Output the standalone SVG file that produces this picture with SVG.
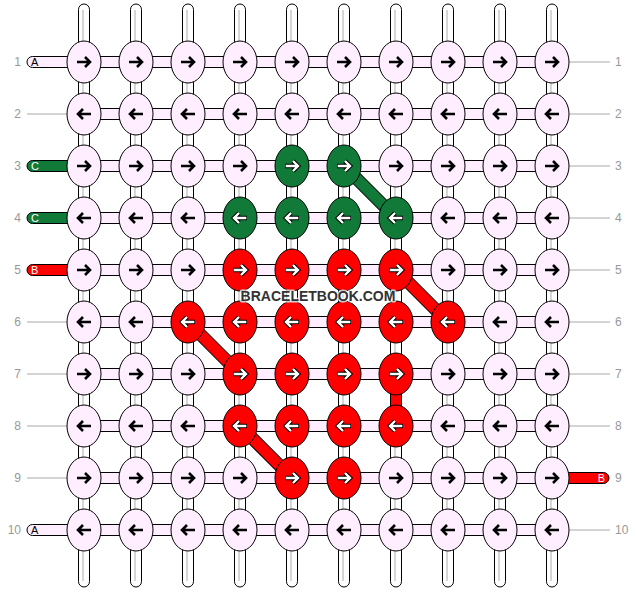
<svg xmlns="http://www.w3.org/2000/svg" xmlns:xlink="http://www.w3.org/1999/xlink" width="636" height="592" viewBox="0 0 636 592">
<style>
.vs{fill:#ffffff;stroke:#000;stroke-width:1}
.vl{stroke:#bbbbbb;stroke-width:1.2}
.hs{fill:#ffeeff;stroke:#000;stroke-width:1}
.knot ellipse{stroke:#000;stroke-width:1}
.p ellipse{fill:#ffeeff}
.g ellipse{fill:#127a38}
.r ellipse{fill:#ff0000}
.num{font-family:"Liberation Sans",Arial,sans-serif;font-size:12px;fill:#999999}
.gl{stroke:#aaaaaa;stroke-width:1}
.lab{font-family:"Liberation Sans",Arial,sans-serif;font-size:11px}
.wm{font-family:"Liberation Sans",Arial,sans-serif;font-size:14px;font-weight:bold;fill:#333333;stroke:#ffffff;stroke-opacity:0.75;stroke-width:3;paint-order:stroke;stroke-linejoin:round}
</style>
<defs>
<g id="rb"><path d="M-7,0H6M1,-5L6,0L1,5" fill="none" stroke="#000" stroke-width="2.6"/></g>
<g id="lb"><path d="M7,0H-6M-1,-5L-6,0L-1,5" fill="none" stroke="#000" stroke-width="2.6"/></g>
<g id="rw"><path d="M-7,0H6M1,-5L6,0L1,5" fill="none" stroke="#000" stroke-width="4.4"/><path d="M-6.3,0H5.6M1,-5L6,0L1,5" fill="none" stroke="#fff" stroke-width="2.4"/></g>
<g id="lw"><path d="M7,0H-6M-1,-5L-6,0L-1,5" fill="none" stroke="#000" stroke-width="4.4"/><path d="M6.3,0H-5.6M-1,-5L-6,0L-1,5" fill="none" stroke="#fff" stroke-width="2.4"/></g>
<g id="vstrand"><rect x="-5.5" y="4" width="11" height="583" rx="5.5" class="vs"/><line x1="-1" y1="10" x2="-1" y2="581" class="vl"/></g>
</defs>
<g id="labels">
<text class="num" x="21" y="66" text-anchor="end">1</text>
<text class="num" x="21" y="118" text-anchor="end">2</text>
<text class="num" x="21" y="170" text-anchor="end">3</text>
<text class="num" x="21" y="222" text-anchor="end">4</text>
<text class="num" x="21" y="274" text-anchor="end">5</text>
<text class="num" x="21" y="326" text-anchor="end">6</text>
<text class="num" x="21" y="378" text-anchor="end">7</text>
<text class="num" x="21" y="430" text-anchor="end">8</text>
<text class="num" x="21" y="482" text-anchor="end">9</text>
<text class="num" x="21" y="534" text-anchor="end">10</text>
<text class="num" x="615" y="66">1</text>
<text class="num" x="615" y="118">2</text>
<text class="num" x="615" y="170">3</text>
<text class="num" x="615" y="222">4</text>
<text class="num" x="615" y="274">5</text>
<text class="num" x="615" y="326">6</text>
<text class="num" x="615" y="378">7</text>
<text class="num" x="615" y="430">8</text>
<text class="num" x="615" y="482">9</text>
<text class="num" x="615" y="534">10</text>
<line class="gl" x1="27" y1="114" x2="67" y2="114"/>
<line class="gl" x1="27" y1="322" x2="67" y2="322"/>
<line class="gl" x1="27" y1="374" x2="67" y2="374"/>
<line class="gl" x1="27" y1="426" x2="67" y2="426"/>
<line class="gl" x1="27" y1="478" x2="67" y2="478"/>
<line class="gl" x1="569" y1="62" x2="610" y2="62"/>
<line class="gl" x1="569" y1="114" x2="610" y2="114"/>
<line class="gl" x1="569" y1="166" x2="610" y2="166"/>
<line class="gl" x1="569" y1="218" x2="610" y2="218"/>
<line class="gl" x1="569" y1="270" x2="610" y2="270"/>
<line class="gl" x1="569" y1="322" x2="610" y2="322"/>
<line class="gl" x1="569" y1="374" x2="610" y2="374"/>
<line class="gl" x1="569" y1="426" x2="610" y2="426"/>
<line class="gl" x1="569" y1="530" x2="610" y2="530"/>
</g>
<g id="connectors">
<use href="#vstrand" x="84" y="0"/>
<use href="#vstrand" x="136" y="0"/>
<use href="#vstrand" x="188" y="0"/>
<use href="#vstrand" x="240" y="0"/>
<use href="#vstrand" x="292" y="0"/>
<use href="#vstrand" x="344" y="0"/>
<use href="#vstrand" x="396" y="0"/>
<use href="#vstrand" x="448" y="0"/>
<use href="#vstrand" x="500" y="0"/>
<use href="#vstrand" x="552" y="0"/>
<rect class="hs" x="70" y="56.5" width="496" height="11"/>
<rect class="hs" x="70" y="108.5" width="496" height="11"/>
<rect class="hs" x="70" y="160.5" width="496" height="11"/>
<rect class="hs" x="70" y="212.5" width="496" height="11"/>
<rect class="hs" x="70" y="264.5" width="496" height="11"/>
<rect class="hs" x="70" y="316.5" width="496" height="11"/>
<rect class="hs" x="70" y="368.5" width="496" height="11"/>
<rect class="hs" x="70" y="420.5" width="496" height="11"/>
<rect class="hs" x="70" y="472.5" width="496" height="11"/>
<rect class="hs" x="70" y="524.5" width="496" height="11"/>
<rect x="390.5" y="390" width="11" height="22" fill="#ff0000" stroke="#000" stroke-width="1"/>
<line x1="344" y1="166" x2="396" y2="218" stroke="#000" stroke-width="13"/>
<line x1="344" y1="166" x2="396" y2="218" stroke="#127a38" stroke-width="11"/>
<line x1="396" y1="270" x2="448" y2="322" stroke="#000" stroke-width="13"/>
<line x1="396" y1="270" x2="448" y2="322" stroke="#ff0000" stroke-width="11"/>
<line x1="188" y1="322" x2="240" y2="374" stroke="#000" stroke-width="13"/>
<line x1="188" y1="322" x2="240" y2="374" stroke="#ff0000" stroke-width="11"/>
<line x1="240" y1="426" x2="292" y2="478" stroke="#000" stroke-width="13"/>
<line x1="240" y1="426" x2="292" y2="478" stroke="#ff0000" stroke-width="11"/>
</g>
<g id="ends">
<rect x="27" y="56.5" width="46" height="11" rx="5.5" fill="#ffeeff" stroke="#000"/>
<text class="lab" x="31" y="66" fill="#000">A</text>
<rect x="27" y="160.5" width="46" height="11" rx="5.5" fill="#127a38" stroke="#000"/>
<text class="lab" x="31" y="170" fill="#fff">C</text>
<rect x="27" y="212.5" width="46" height="11" rx="5.5" fill="#127a38" stroke="#000"/>
<text class="lab" x="31" y="222" fill="#fff">C</text>
<rect x="27" y="264.5" width="46" height="11" rx="5.5" fill="#ff0000" stroke="#000"/>
<text class="lab" x="31" y="274" fill="#fff">B</text>
<rect x="27" y="524.5" width="46" height="11" rx="5.5" fill="#ffeeff" stroke="#000"/>
<text class="lab" x="31" y="534" fill="#000">A</text>
<rect x="563" y="472.5" width="46" height="11" rx="5.5" fill="#ff0000" stroke="#000"/>
<text class="lab" x="605" y="482" fill="#fff" text-anchor="end">B</text>
</g>
<g id="knots">
<g id="k1-1" class="knot p"><ellipse cx="84" cy="62" rx="17" ry="21"/><use href="#rb" x="84" y="62"/></g>
<g id="k1-2" class="knot p"><ellipse cx="136" cy="62" rx="17" ry="21"/><use href="#rb" x="136" y="62"/></g>
<g id="k1-3" class="knot p"><ellipse cx="188" cy="62" rx="17" ry="21"/><use href="#rb" x="188" y="62"/></g>
<g id="k1-4" class="knot p"><ellipse cx="240" cy="62" rx="17" ry="21"/><use href="#rb" x="240" y="62"/></g>
<g id="k1-5" class="knot p"><ellipse cx="292" cy="62" rx="17" ry="21"/><use href="#rb" x="292" y="62"/></g>
<g id="k1-6" class="knot p"><ellipse cx="344" cy="62" rx="17" ry="21"/><use href="#rb" x="344" y="62"/></g>
<g id="k1-7" class="knot p"><ellipse cx="396" cy="62" rx="17" ry="21"/><use href="#rb" x="396" y="62"/></g>
<g id="k1-8" class="knot p"><ellipse cx="448" cy="62" rx="17" ry="21"/><use href="#rb" x="448" y="62"/></g>
<g id="k1-9" class="knot p"><ellipse cx="500" cy="62" rx="17" ry="21"/><use href="#rb" x="500" y="62"/></g>
<g id="k1-10" class="knot p"><ellipse cx="552" cy="62" rx="17" ry="21"/><use href="#rb" x="552" y="62"/></g>
<g id="k2-1" class="knot p"><ellipse cx="84" cy="114" rx="17" ry="21"/><use href="#lb" x="84" y="114"/></g>
<g id="k2-2" class="knot p"><ellipse cx="136" cy="114" rx="17" ry="21"/><use href="#lb" x="136" y="114"/></g>
<g id="k2-3" class="knot p"><ellipse cx="188" cy="114" rx="17" ry="21"/><use href="#lb" x="188" y="114"/></g>
<g id="k2-4" class="knot p"><ellipse cx="240" cy="114" rx="17" ry="21"/><use href="#lb" x="240" y="114"/></g>
<g id="k2-5" class="knot p"><ellipse cx="292" cy="114" rx="17" ry="21"/><use href="#lb" x="292" y="114"/></g>
<g id="k2-6" class="knot p"><ellipse cx="344" cy="114" rx="17" ry="21"/><use href="#lb" x="344" y="114"/></g>
<g id="k2-7" class="knot p"><ellipse cx="396" cy="114" rx="17" ry="21"/><use href="#lb" x="396" y="114"/></g>
<g id="k2-8" class="knot p"><ellipse cx="448" cy="114" rx="17" ry="21"/><use href="#lb" x="448" y="114"/></g>
<g id="k2-9" class="knot p"><ellipse cx="500" cy="114" rx="17" ry="21"/><use href="#lb" x="500" y="114"/></g>
<g id="k2-10" class="knot p"><ellipse cx="552" cy="114" rx="17" ry="21"/><use href="#lb" x="552" y="114"/></g>
<g id="k3-1" class="knot p"><ellipse cx="84" cy="166" rx="17" ry="21"/><use href="#rb" x="84" y="166"/></g>
<g id="k3-2" class="knot p"><ellipse cx="136" cy="166" rx="17" ry="21"/><use href="#rb" x="136" y="166"/></g>
<g id="k3-3" class="knot p"><ellipse cx="188" cy="166" rx="17" ry="21"/><use href="#rb" x="188" y="166"/></g>
<g id="k3-4" class="knot p"><ellipse cx="240" cy="166" rx="17" ry="21"/><use href="#rb" x="240" y="166"/></g>
<g id="k3-5" class="knot g"><ellipse cx="292" cy="166" rx="17" ry="21"/><use href="#rw" x="292" y="166"/></g>
<g id="k3-6" class="knot g"><ellipse cx="344" cy="166" rx="17" ry="21"/><use href="#rw" x="344" y="166"/></g>
<g id="k3-7" class="knot p"><ellipse cx="396" cy="166" rx="17" ry="21"/><use href="#rb" x="396" y="166"/></g>
<g id="k3-8" class="knot p"><ellipse cx="448" cy="166" rx="17" ry="21"/><use href="#rb" x="448" y="166"/></g>
<g id="k3-9" class="knot p"><ellipse cx="500" cy="166" rx="17" ry="21"/><use href="#rb" x="500" y="166"/></g>
<g id="k3-10" class="knot p"><ellipse cx="552" cy="166" rx="17" ry="21"/><use href="#rb" x="552" y="166"/></g>
<g id="k4-1" class="knot p"><ellipse cx="84" cy="218" rx="17" ry="21"/><use href="#lb" x="84" y="218"/></g>
<g id="k4-2" class="knot p"><ellipse cx="136" cy="218" rx="17" ry="21"/><use href="#lb" x="136" y="218"/></g>
<g id="k4-3" class="knot p"><ellipse cx="188" cy="218" rx="17" ry="21"/><use href="#lb" x="188" y="218"/></g>
<g id="k4-4" class="knot g"><ellipse cx="240" cy="218" rx="17" ry="21"/><use href="#lw" x="240" y="218"/></g>
<g id="k4-5" class="knot g"><ellipse cx="292" cy="218" rx="17" ry="21"/><use href="#lw" x="292" y="218"/></g>
<g id="k4-6" class="knot g"><ellipse cx="344" cy="218" rx="17" ry="21"/><use href="#lw" x="344" y="218"/></g>
<g id="k4-7" class="knot g"><ellipse cx="396" cy="218" rx="17" ry="21"/><use href="#lw" x="396" y="218"/></g>
<g id="k4-8" class="knot p"><ellipse cx="448" cy="218" rx="17" ry="21"/><use href="#lb" x="448" y="218"/></g>
<g id="k4-9" class="knot p"><ellipse cx="500" cy="218" rx="17" ry="21"/><use href="#lb" x="500" y="218"/></g>
<g id="k4-10" class="knot p"><ellipse cx="552" cy="218" rx="17" ry="21"/><use href="#lb" x="552" y="218"/></g>
<g id="k5-1" class="knot p"><ellipse cx="84" cy="270" rx="17" ry="21"/><use href="#rb" x="84" y="270"/></g>
<g id="k5-2" class="knot p"><ellipse cx="136" cy="270" rx="17" ry="21"/><use href="#rb" x="136" y="270"/></g>
<g id="k5-3" class="knot p"><ellipse cx="188" cy="270" rx="17" ry="21"/><use href="#rb" x="188" y="270"/></g>
<g id="k5-4" class="knot r"><ellipse cx="240" cy="270" rx="17" ry="21"/><use href="#rw" x="240" y="270"/></g>
<g id="k5-5" class="knot r"><ellipse cx="292" cy="270" rx="17" ry="21"/><use href="#rw" x="292" y="270"/></g>
<g id="k5-6" class="knot r"><ellipse cx="344" cy="270" rx="17" ry="21"/><use href="#rw" x="344" y="270"/></g>
<g id="k5-7" class="knot r"><ellipse cx="396" cy="270" rx="17" ry="21"/><use href="#rw" x="396" y="270"/></g>
<g id="k5-8" class="knot p"><ellipse cx="448" cy="270" rx="17" ry="21"/><use href="#rb" x="448" y="270"/></g>
<g id="k5-9" class="knot p"><ellipse cx="500" cy="270" rx="17" ry="21"/><use href="#rb" x="500" y="270"/></g>
<g id="k5-10" class="knot p"><ellipse cx="552" cy="270" rx="17" ry="21"/><use href="#rb" x="552" y="270"/></g>
<g id="k6-1" class="knot p"><ellipse cx="84" cy="322" rx="17" ry="21"/><use href="#lb" x="84" y="322"/></g>
<g id="k6-2" class="knot p"><ellipse cx="136" cy="322" rx="17" ry="21"/><use href="#lb" x="136" y="322"/></g>
<g id="k6-3" class="knot r"><ellipse cx="188" cy="322" rx="17" ry="21"/><use href="#lw" x="188" y="322"/></g>
<g id="k6-4" class="knot r"><ellipse cx="240" cy="322" rx="17" ry="21"/><use href="#lw" x="240" y="322"/></g>
<g id="k6-5" class="knot r"><ellipse cx="292" cy="322" rx="17" ry="21"/><use href="#lw" x="292" y="322"/></g>
<g id="k6-6" class="knot r"><ellipse cx="344" cy="322" rx="17" ry="21"/><use href="#lw" x="344" y="322"/></g>
<g id="k6-7" class="knot r"><ellipse cx="396" cy="322" rx="17" ry="21"/><use href="#lw" x="396" y="322"/></g>
<g id="k6-8" class="knot r"><ellipse cx="448" cy="322" rx="17" ry="21"/><use href="#lw" x="448" y="322"/></g>
<g id="k6-9" class="knot p"><ellipse cx="500" cy="322" rx="17" ry="21"/><use href="#lb" x="500" y="322"/></g>
<g id="k6-10" class="knot p"><ellipse cx="552" cy="322" rx="17" ry="21"/><use href="#lb" x="552" y="322"/></g>
<g id="k7-1" class="knot p"><ellipse cx="84" cy="374" rx="17" ry="21"/><use href="#rb" x="84" y="374"/></g>
<g id="k7-2" class="knot p"><ellipse cx="136" cy="374" rx="17" ry="21"/><use href="#rb" x="136" y="374"/></g>
<g id="k7-3" class="knot p"><ellipse cx="188" cy="374" rx="17" ry="21"/><use href="#rb" x="188" y="374"/></g>
<g id="k7-4" class="knot r"><ellipse cx="240" cy="374" rx="17" ry="21"/><use href="#rw" x="240" y="374"/></g>
<g id="k7-5" class="knot r"><ellipse cx="292" cy="374" rx="17" ry="21"/><use href="#rw" x="292" y="374"/></g>
<g id="k7-6" class="knot r"><ellipse cx="344" cy="374" rx="17" ry="21"/><use href="#rw" x="344" y="374"/></g>
<g id="k7-7" class="knot r"><ellipse cx="396" cy="374" rx="17" ry="21"/><use href="#rw" x="396" y="374"/></g>
<g id="k7-8" class="knot p"><ellipse cx="448" cy="374" rx="17" ry="21"/><use href="#rb" x="448" y="374"/></g>
<g id="k7-9" class="knot p"><ellipse cx="500" cy="374" rx="17" ry="21"/><use href="#rb" x="500" y="374"/></g>
<g id="k7-10" class="knot p"><ellipse cx="552" cy="374" rx="17" ry="21"/><use href="#rb" x="552" y="374"/></g>
<g id="k8-1" class="knot p"><ellipse cx="84" cy="426" rx="17" ry="21"/><use href="#lb" x="84" y="426"/></g>
<g id="k8-2" class="knot p"><ellipse cx="136" cy="426" rx="17" ry="21"/><use href="#lb" x="136" y="426"/></g>
<g id="k8-3" class="knot p"><ellipse cx="188" cy="426" rx="17" ry="21"/><use href="#lb" x="188" y="426"/></g>
<g id="k8-4" class="knot r"><ellipse cx="240" cy="426" rx="17" ry="21"/><use href="#lw" x="240" y="426"/></g>
<g id="k8-5" class="knot r"><ellipse cx="292" cy="426" rx="17" ry="21"/><use href="#lw" x="292" y="426"/></g>
<g id="k8-6" class="knot r"><ellipse cx="344" cy="426" rx="17" ry="21"/><use href="#lw" x="344" y="426"/></g>
<g id="k8-7" class="knot r"><ellipse cx="396" cy="426" rx="17" ry="21"/><use href="#lw" x="396" y="426"/></g>
<g id="k8-8" class="knot p"><ellipse cx="448" cy="426" rx="17" ry="21"/><use href="#lb" x="448" y="426"/></g>
<g id="k8-9" class="knot p"><ellipse cx="500" cy="426" rx="17" ry="21"/><use href="#lb" x="500" y="426"/></g>
<g id="k8-10" class="knot p"><ellipse cx="552" cy="426" rx="17" ry="21"/><use href="#lb" x="552" y="426"/></g>
<g id="k9-1" class="knot p"><ellipse cx="84" cy="478" rx="17" ry="21"/><use href="#rb" x="84" y="478"/></g>
<g id="k9-2" class="knot p"><ellipse cx="136" cy="478" rx="17" ry="21"/><use href="#rb" x="136" y="478"/></g>
<g id="k9-3" class="knot p"><ellipse cx="188" cy="478" rx="17" ry="21"/><use href="#rb" x="188" y="478"/></g>
<g id="k9-4" class="knot p"><ellipse cx="240" cy="478" rx="17" ry="21"/><use href="#rb" x="240" y="478"/></g>
<g id="k9-5" class="knot r"><ellipse cx="292" cy="478" rx="17" ry="21"/><use href="#rw" x="292" y="478"/></g>
<g id="k9-6" class="knot r"><ellipse cx="344" cy="478" rx="17" ry="21"/><use href="#rw" x="344" y="478"/></g>
<g id="k9-7" class="knot p"><ellipse cx="396" cy="478" rx="17" ry="21"/><use href="#rb" x="396" y="478"/></g>
<g id="k9-8" class="knot p"><ellipse cx="448" cy="478" rx="17" ry="21"/><use href="#rb" x="448" y="478"/></g>
<g id="k9-9" class="knot p"><ellipse cx="500" cy="478" rx="17" ry="21"/><use href="#rb" x="500" y="478"/></g>
<g id="k9-10" class="knot p"><ellipse cx="552" cy="478" rx="17" ry="21"/><use href="#rb" x="552" y="478"/></g>
<g id="k10-1" class="knot p"><ellipse cx="84" cy="530" rx="17" ry="21"/><use href="#lb" x="84" y="530"/></g>
<g id="k10-2" class="knot p"><ellipse cx="136" cy="530" rx="17" ry="21"/><use href="#lb" x="136" y="530"/></g>
<g id="k10-3" class="knot p"><ellipse cx="188" cy="530" rx="17" ry="21"/><use href="#lb" x="188" y="530"/></g>
<g id="k10-4" class="knot p"><ellipse cx="240" cy="530" rx="17" ry="21"/><use href="#lb" x="240" y="530"/></g>
<g id="k10-5" class="knot p"><ellipse cx="292" cy="530" rx="17" ry="21"/><use href="#lb" x="292" y="530"/></g>
<g id="k10-6" class="knot p"><ellipse cx="344" cy="530" rx="17" ry="21"/><use href="#lb" x="344" y="530"/></g>
<g id="k10-7" class="knot p"><ellipse cx="396" cy="530" rx="17" ry="21"/><use href="#lb" x="396" y="530"/></g>
<g id="k10-8" class="knot p"><ellipse cx="448" cy="530" rx="17" ry="21"/><use href="#lb" x="448" y="530"/></g>
<g id="k10-9" class="knot p"><ellipse cx="500" cy="530" rx="17" ry="21"/><use href="#lb" x="500" y="530"/></g>
<g id="k10-10" class="knot p"><ellipse cx="552" cy="530" rx="17" ry="21"/><use href="#lb" x="552" y="530"/></g>
</g>
<text class="wm" x="318" y="301" text-anchor="middle">BRACELETBOOK.COM</text>
</svg>
